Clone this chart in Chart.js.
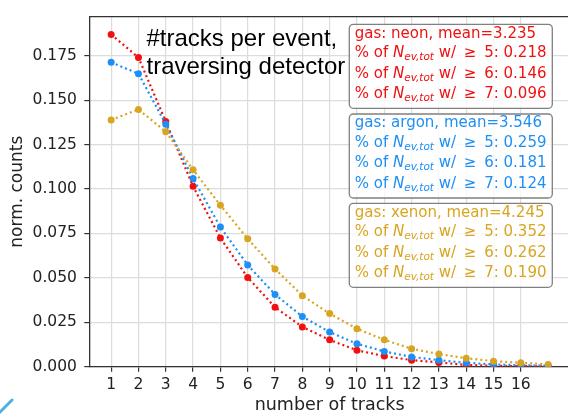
<!DOCTYPE html>
<html>
<head>
<meta charset="utf-8">
<script src="https://cdn.jsdelivr.net/npm/chart.js@4.4.1/dist/chart.umd.min.js"></script>
<style>
  html, body { margin: 0; padding: 0; background: #fff; overflow: hidden; }
  #wrap { width: 568px; height: 414px; overflow: hidden; position: relative; }
  canvas { display: block; }
</style>
</head>
<body>
<div id="wrap"><canvas id="tracksChart" width="580" height="414"></canvas></div>
<script>
// number of tracks per event (x) and normalised counts per gas
const nTracks = [1, 2, 3, 4, 5, 6, 7, 8, 9, 10, 11, 12, 13, 14, 15, 16, 17];
const neonCounts  = [0.1870, 0.1740, 0.1380, 0.1015, 0.0724, 0.0502, 0.0335, 0.0224, 0.0151, 0.0092, 0.0060, 0.0037, 0.0024, 0.0010, 0.0005, 0.0003, 0.0002];
const argonCounts = [0.1713, 0.1649, 0.1365, 0.1059, 0.0786, 0.0572, 0.0407, 0.0282, 0.0195, 0.0129, 0.0086, 0.0055, 0.0037, 0.0022, 0.0013, 0.0008, 0.0005];
const xenonCounts = [0.1389, 0.1448, 0.1323, 0.1108, 0.0909, 0.0720, 0.0550, 0.0400, 0.0299, 0.0214, 0.0151, 0.0101, 0.0071, 0.0048, 0.0031, 0.0022, 0.0013];

const xTicks = [1, 2, 3, 4, 5, 6, 7, 8, 9, 10, 11, 12, 13, 14, 15, 16];
const yTicks = [0, 0.025, 0.05, 0.075, 0.1, 0.125, 0.15, 0.175];

// summary numbers shown in the boxes
const gasNames = ['neon', 'argon', 'xenon'];
const gasMeans = ['3.235', '3.546', '4.245'];
const thresholds = [5, 6, 7];
const neonFractions  = ['0.218', '0.146', '0.096'];
const argonFractions = ['0.259', '0.181', '0.124'];
const xenonFractions = ['0.352', '0.262', '0.190'];

const gasColors = ['#f01010', '#1e8ff5', '#d9a521'];

const FONT = "'DejaVu Sans', sans-serif";

function toPoints(values) {
  return values.map((v, i) => ({ x: nTracks[i], y: v }));
}

function dotted(color, values, order) {
  return {
    data: toPoints(values),
    borderColor: color,
    backgroundColor: color,
    borderWidth: 2.2,
    borderDash: [2, 3],
    pointRadius: 3.5,
    pointBorderWidth: 0,
    pointBackgroundColor: color,
    tension: 0,
    fill: false,
    order: order
  };
}

// "% of N_ev,tot w/ >= k: f" with italic N and subscript
function drawFractionLine(ctx, x, y, k, frac) {
  ctx.font = `15px ${FONT}`;
  ctx.fillText('% of ', x, y);
  x += ctx.measureText('% of ').width;
  ctx.font = `oblique 15px ${FONT}`;
  ctx.fillText('N', x, y);
  x += ctx.measureText('N').width;
  ctx.font = `oblique 10.5px ${FONT}`;
  ctx.fillText('ev,tot', x, y + 3);
  x += ctx.measureText('ev,tot').width;
  ctx.font = `15px ${FONT}`;
  ctx.fillText(' w/ ', x, y);
  x += ctx.measureText(' w/ ').width + 3;
  ctx.fillText('\u2265', x, y);
  x += ctx.measureText('\u2265').width + 3;
  ctx.fillText(` ${k}: ${frac}`, x, y);
}

const overlay = {
  id: 'overlay',
  afterDraw(chart) {
    const ctx = chart.ctx;
    const area = chart.chartArea;
    ctx.save();

    // top spine
    ctx.strokeStyle = '#333';
    ctx.lineWidth = 1.3;
    ctx.beginPath();
    ctx.moveTo(area.left, area.top);
    ctx.lineTo(chart.width, area.top);
    ctx.stroke();

    // headline
    ctx.fillStyle = '#000';
    ctx.font = "24px 'Liberation Sans', Arial, sans-serif";
    ctx.textBaseline = 'alphabetic';
    ctx.textAlign = 'left';
    ctx.fillText('#tracks per event,', 146.5, 45.7);
    ctx.fillText('traversing detector', 146.5, 74);

    // one box per gas
    const fractions = [neonFractions, argonFractions, xenonFractions];
    const boxTops = [24.3, 114, 203.3];
    const boxX = 349.3, boxW = 203, boxH = 84;
    const lineOffsets = [13.4, 32.6, 53.2, 74];
    gasNames.forEach((gas, g) => {
      const top = boxTops[g];
      ctx.beginPath();
      ctx.roundRect(boxX, top, boxW, boxH, 4);
      ctx.fillStyle = 'rgba(255,255,255,0.8)';
      ctx.fill();
      ctx.strokeStyle = '#808080';
      ctx.lineWidth = 1.3;
      ctx.stroke();

      ctx.fillStyle = gasColors[g];
      ctx.font = `15px ${FONT}`;
      ctx.fillText(`gas: ${gas}, mean=${gasMeans[g]}`, boxX + 5.4, top + lineOffsets[0]);
      thresholds.forEach((k, j) => {
        drawFractionLine(ctx, boxX + 5.4, top + lineOffsets[j + 1], k, fractions[g][j]);
      });
    });

    // small stroke in the lower left corner
    ctx.strokeStyle = '#4fb0e0';
    ctx.lineWidth = 3;
    ctx.lineCap = 'round';
    ctx.beginPath();
    ctx.moveTo(-1, 413);
    ctx.lineTo(12, 400);
    ctx.stroke();

    ctx.restore();
  }
};

new Chart(document.getElementById('tracksChart'), {
  type: 'line',
  data: {
    datasets: [
      dotted(gasColors[0], neonCounts, 3),
      dotted(gasColors[1], argonCounts, 2),
      dotted(gasColors[2], xenonCounts, 1)
    ]
  },
  options: {
    responsive: false,
    animation: false,
    layout: { padding: { top: 8, right: 10, left: 0, bottom: 0 } },
    plugins: {
      legend: { display: false },
      tooltip: { enabled: false }
    },
    scales: {
      x: {
        type: 'linear',
        min: 0.2,
        max: 17.8,
        afterBuildTicks: s => { s.ticks = xTicks.map(v => ({ value: v })); },
        afterFit: s => { s.height = 47.3; },
        grid: { color: '#dcdcdc', lineWidth: 1.2, tickLength: 5, tickColor: '#333', tickWidth: 1.2 },
        border: { color: '#333', width: 1.3 },
        ticks: {
          font: { family: FONT, size: 15.5 },
          color: '#222',
          padding: 4,
          maxRotation: 0,
          autoSkip: false
        },
        title: {
          display: true,
          text: 'number of tracks',
          font: { family: FONT, size: 17.5 },
          color: '#222',
          padding: { top: 0, bottom: -1.5 }
        }
      },
      y: {
        min: 0,
        max: 0.197,
        afterBuildTicks: s => { s.ticks = yTicks.map(v => ({ value: v })); },
        afterFit: s => { s.width = 89.3; },
        grid: { color: '#dcdcdc', lineWidth: 1.2, tickLength: 5, tickColor: '#333', tickWidth: 1.2 },
        border: { color: '#333', width: 1.3 },
        ticks: {
          font: { family: FONT, size: 15.5 },
          color: '#222',
          padding: 7.4,
          callback: v => v.toFixed(3)
        },
        title: {
          display: true,
          text: 'norm. counts',
          font: { family: FONT, size: 17 },
          color: '#222',
          padding: { top: 7.6, bottom: 0 }
        }
      }
    }
  },
  plugins: [overlay]
});
</script>
</body>
</html>
